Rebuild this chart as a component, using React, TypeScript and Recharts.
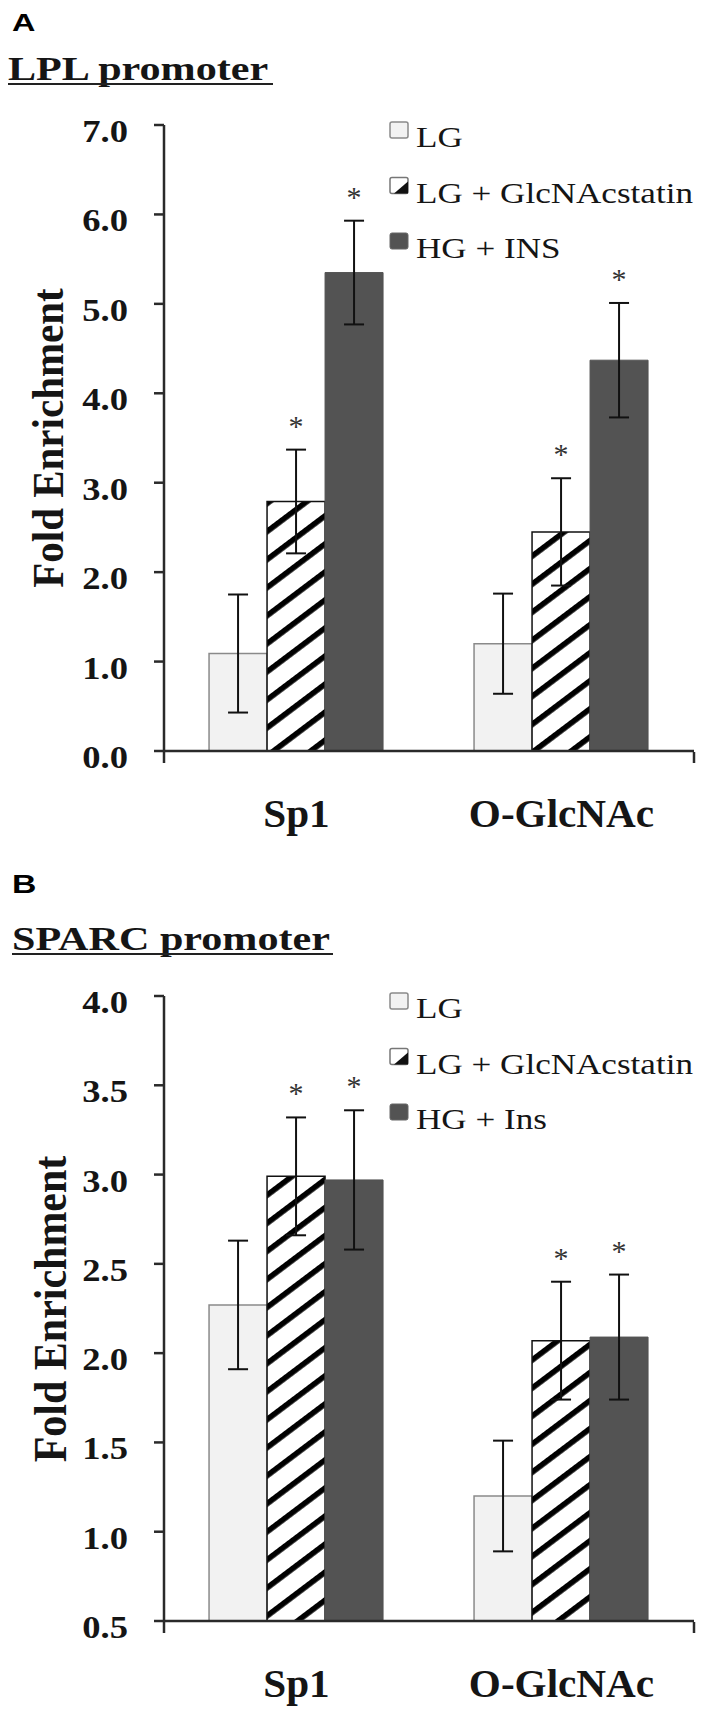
import React from 'react';
import { BarChart, Bar, XAxis, YAxis, ErrorBar, LabelList, Legend } from 'recharts';

// ---------- data ----------
const categories = ['Sp1', 'O-GlcNAc'];

const seriesNamesA = ['LG', 'LG + GlcNAcstatin', 'HG + INS'];
const lplLG = [1.09, 1.2];
const lplLGErr = [0.66, 0.56];
const lplGlc = [2.79, 2.45];
const lplGlcErr = [0.58, 0.6];
const lplHG = [5.35, 4.37];
const lplHGErr = [0.58, 0.64];
const lplTicks = [0, 1, 2, 3, 4, 5, 6, 7];

const seriesNamesB = ['LG', 'LG + GlcNAcstatin', 'HG + Ins'];
const sparcLG = [2.27, 1.2];
const sparcLGErr = [0.36, 0.31];
const sparcGlc = [2.99, 2.07];
const sparcGlcErr = [0.33, 0.33];
const sparcHG = [2.97, 2.09];
const sparcHGErr = [0.39, 0.35];
const sparcTicks = [0.5, 1, 1.5, 2, 2.5, 3, 3.5, 4];

const edgeTicks = [0, 1, 2];

const lplRows = categories.map((c, i) => ({
  cat: c,
  lg: lplLG[i], lgErr: lplLGErr[i],
  glc: lplGlc[i], glcErr: lplGlcErr[i],
  hg: lplHG[i], hgErr: lplHGErr[i],
}));
const sparcRows = categories.map((c, i) => ({
  cat: c,
  lg: sparcLG[i], lgErr: sparcLGErr[i],
  glc: sparcGlc[i], glcErr: sparcGlcErr[i],
  hg: sparcHG[i], hgErr: sparcHGErr[i],
}));

// ---------- styles ----------
const SERIF = "'Liberation Serif', 'Times New Roman', serif";
const SANS = "'Liberation Sans', Arial, sans-serif";
const AXIS = '#2a2a2a';
const LG_FILL = '#f2f2f2';
const LG_STROKE = '#8a8a8a';
const HG_FILL = '#535353';

const CatTick = (props: any) => {
  const { x, y, payload } = props;
  return (
    <text
      transform={`translate(${x},${y + 76}) scale(1.03,1)`}
      textAnchor="middle"
      fontFamily={SERIF}
      fontWeight="bold"
      fontSize={40}
      fill="#151515"
    >
      {payload.value}
    </text>
  );
};

const ValTick = (props: any) => {
  const { x, y, payload } = props;
  return (
    <text
      transform={`translate(${x},${y + 17}) scale(1.18,1)`}
      textAnchor="end"
      fontFamily={SERIF}
      fontWeight="bold"
      fontSize={31}
      fill="#151515"
    >
      {Number(payload.value).toFixed(1)}
    </text>
  );
};

const EmptyTick = () => <g />;

const makeStar = (errs: number[], base: number) => (props: any) => {
  const { x, y, width, height, value, index } = props;
  const v = Number(value);
  const ppu = Number(height) / (v - base);
  const capY = Number(y) - errs[index] * ppu;
  return (
    <text
      x={Number(x) + Number(width) / 2}
      y={capY - 14}
      textAnchor="middle"
      fontFamily={SERIF}
      fontSize={30}
      fill="#333"
    >
      *
    </text>
  );
};

const makeLegend = (names: string[]) => () => (
  <svg width={323} height={175} style={{ overflow: 'visible', display: 'block' }}>
    {names.map((n, i) => {
      const b = 47 + i * 55.5;
      const mx = 5;
      const my = b - 25;
      return (
        <g key={n}>
          {i === 0 && (
            <rect x={mx} y={my} width={18} height={16} fill={LG_FILL} stroke={LG_STROKE} strokeWidth={1.5} rx={2} />
          )}
          {i === 1 && (
            <g>
              <rect x={mx} y={my} width={18} height={16} fill="#fff" stroke="#777" strokeWidth={1.5} rx={2} />
              <polygon points={`${mx + 4},${my + 16} ${mx + 18},${my + 4} ${mx + 18},${my + 16}`} fill="#111" />
            </g>
          )}
          {i === 2 && <rect x={mx} y={my} width={18} height={16} fill={HG_FILL} stroke="#666" strokeWidth={1} rx={2} />}
          <text
            transform={`translate(31,${b}) scale(1.17,1)`}
            fontFamily={SERIF}
            fontSize={30}
            fill="#151515"
          >
            {n}
          </text>
        </g>
      );
    })}
  </svg>
);

const HatchDef = ({ id }: { id: string }) => (
  <defs>
    <pattern id={id} patternUnits="userSpaceOnUse" width={12} height={22.4} patternTransform="rotate(-37)">
      <rect width={12} height={22.4} fill="#fff" />
      <rect width={12} height={5.6} fill="#000" />
    </pattern>
  </defs>
);

type PanelProps = {
  rows: any[];
  names: string[];
  domain: [number, number];
  ticks: number[];
  marginTop: number;
  marginBottom: number;
  height: number;
  legendTop: number;
  patternId: string;
  glcErr: number[];
  hgErr: number[];
};

const Panel = (p: PanelProps) => (
  <BarChart
    width={708}
    height={p.height}
    data={p.rows}
    margin={{ top: p.marginTop, right: 14, bottom: p.marginBottom, left: 0 }}
    barCategoryGap="17%"
    barGap={0}
  >
    <HatchDef id={p.patternId} />
    <XAxis
      dataKey="cat"
      height={1}
      interval={0}
      tickLine={false}
      tickSize={0}
      tickMargin={0}
      axisLine={{ stroke: AXIS, strokeWidth: 2.5 }}
      tick={(tp: any) => <CatTick {...tp} />}
    />
    <XAxis
      xAxisId="edge"
      type="number"
      domain={[0, 2]}
      ticks={edgeTicks}
      allowDataOverflow
      interval={0}
      height={1}
      tick={(tp: any) => <EmptyTick />}
      axisLine={false}
      tickSize={11}
      tickLine={{ stroke: AXIS, strokeWidth: 2.5 }}
    />
    <YAxis
      width={164}
      domain={p.domain}
      ticks={p.ticks}
      allowDataOverflow
      interval={0}
      tickSize={10}
      tickMargin={26}
      axisLine={{ stroke: AXIS, strokeWidth: 2.5 }}
      tickLine={{ stroke: AXIS, strokeWidth: 2.5 }}
      tick={(tp: any) => <ValTick {...tp} />}
    />
    <Legend
      layout="horizontal"
      verticalAlign="middle"
      align="center"
      content={makeLegend(p.names)}
      wrapperStyle={{ left: 385, top: p.legendTop, width: 323, height: 175 }}
    />
    <Bar dataKey="lg" name={p.names[0]} fill={LG_FILL} stroke={LG_STROKE} strokeWidth={1.5} isAnimationActive={false}>
      <ErrorBar dataKey="lgErr" width={10} stroke="#111" strokeWidth={2} direction="y" />
    </Bar>
    <Bar dataKey="glc" name={p.names[1]} fill={`url(#${p.patternId})`} stroke="#111" strokeWidth={1.5} isAnimationActive={false}>
      <ErrorBar dataKey="glcErr" width={10} stroke="#111" strokeWidth={2} direction="y" />
      <LabelList dataKey="glc" content={makeStar(p.glcErr, p.domain[0])} />
    </Bar>
    <Bar dataKey="hg" name={p.names[2]} fill={HG_FILL} stroke={HG_FILL} strokeWidth={1} isAnimationActive={false}>
      <ErrorBar dataKey="hgErr" width={10} stroke="#111" strokeWidth={2} direction="y" />
      <LabelList dataKey="hg" content={makeStar(p.hgErr, p.domain[0])} />
    </Bar>
  </BarChart>
);

export default function App() {
  return (
    <div style={{ position: 'absolute', left: 0, top: 0, width: 708, height: 1712, background: '#fff', overflow: 'hidden' }}>
      <div style={{ position: 'absolute', left: 0, top: 0, width: 708, height: 860 }}>
        <Panel
          rows={lplRows}
          names={seriesNamesA}
          domain={[0, 7]}
          ticks={lplTicks}
          marginTop={125}
          marginBottom={107}
          height={860}
          legendTop={100}
          patternId="hatchA"
          glcErr={lplGlcErr}
          hgErr={lplHGErr}
        />
      </div>
      <div style={{ position: 'absolute', left: 0, top: 860, width: 708, height: 852 }}>
        <Panel
          rows={sparcRows}
          names={seriesNamesB}
          domain={[0.5, 4]}
          ticks={sparcTicks}
          marginTop={136}
          marginBottom={89}
          height={852}
          legendTop={111}
          patternId="hatchB"
          glcErr={sparcGlcErr}
          hgErr={sparcHGErr}
        />
      </div>
      <svg width={708} height={1712} style={{ position: 'absolute', left: 0, top: 0, pointerEvents: 'none' }}>
        <text transform="translate(12,31) scale(1.35,1)" fontFamily={SANS} fontWeight="bold" fontSize={24} fill="#000">A</text>
        <text transform="translate(8,80) scale(1.24,1)" fontFamily={SERIF} fontWeight="bold" fontSize={34} fill="#151515">LPL promoter</text>
        <line x1={8} x2={273} y1={84} y2={84} stroke="#222" strokeWidth={2} />
        <text transform="translate(63,438) scale(1.1,1) rotate(-90)" textAnchor="middle" fontFamily={SERIF} fontWeight="bold" fontSize={41} fill="#151515">Fold Enrichment</text>

        <text transform="translate(12,893) scale(1.3,1)" fontFamily={SANS} fontWeight="bold" fontSize={26} fill="#000">B</text>
        <text transform="translate(12,950) scale(1.24,1)" fontFamily={SERIF} fontWeight="bold" fontSize={34} fill="#151515">SPARC promoter</text>
        <line x1={12} x2={333} y1={954} y2={954} stroke="#222" strokeWidth={2} />
        <text transform="translate(66,1309) scale(1.1,1) rotate(-90)" textAnchor="middle" fontFamily={SERIF} fontWeight="bold" fontSize={42} fill="#151515">Fold Enrichment</text>
      </svg>
    </div>
  );
}
